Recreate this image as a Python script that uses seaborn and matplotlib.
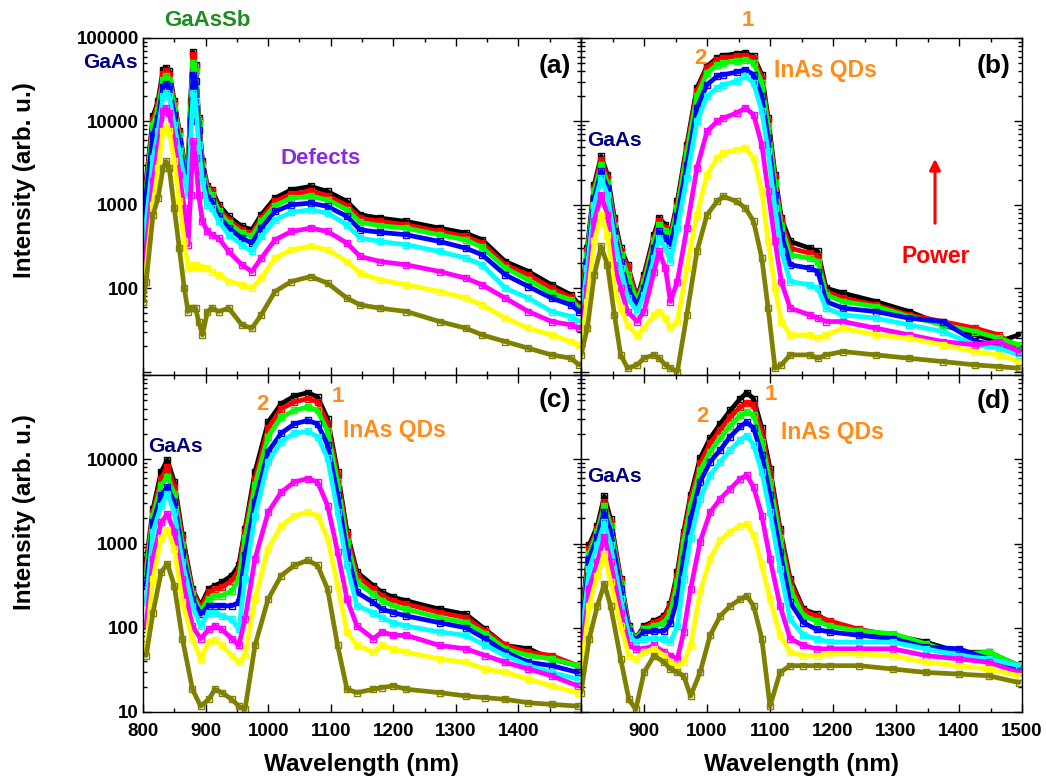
import numpy as np
import matplotlib
matplotlib.use("Agg")
import matplotlib.pyplot as plt
import seaborn as sns
from matplotlib.ticker import FixedLocator, NullFormatter, LogLocator, MultipleLocator, FuncFormatter

sns.set_theme(style="ticks")
plt.rcParams["font.family"] = ["Liberation Sans", "DejaVu Sans"]
plt.rcParams["font.weight"] = "bold"
plt.rcParams["axes.edgecolor"] = "black"
plt.rcParams["xtick.color"] = "black"
plt.rcParams["ytick.color"] = "black"
plt.rcParams["axes.linewidth"] = 1.0

# ---------------- data: log10(intensity) ----------------
series_names = ["P8", "P7", "P6", "P5", "P4", "P3", "P2", "P1"]
series_colors = ["#000000", "#FF0000", "#00FF00", "#0000FF", "#00FFFF", "#FF00FF", "#FFFF00", "#808000"]

# panel (a)
wl_a = [800, 805, 816, 824, 832, 837, 842, 850, 858, 866, 872, 876, 880, 884, 889, 895, 903, 910, 921, 937,
        958, 974, 989, 1011, 1037, 1068, 1095, 1126, 1147, 1179, 1221, 1274, 1316, 1342, 1379, 1416, 1453, 1484, 1497]
a_black = [2.96, 3.28, 4.06, 4.24, 4.62, 4.64, 4.60, 4.24, 3.88, 3.52, 3.44, 4.24, 4.83, 4.68, 4.04, 3.52, 3.22, 3.18, 3.00, 2.86,
           2.74, 2.70, 2.88, 3.08, 3.18, 3.22, 3.16, 3.04, 2.88, 2.84, 2.80, 2.72, 2.66, 2.58, 2.32, 2.20, 2.04, 1.92, 1.80]
a_red = [2.92, 3.24, 4.02, 4.20, 4.57, 4.60, 4.56, 4.22, 3.86, 3.50, 3.42, 4.20, 4.80, 4.66, 4.02, 3.50, 3.20, 3.16, 2.96, 2.82,
         2.70, 2.66, 2.84, 3.04, 3.13, 3.16, 3.11, 2.99, 2.84, 2.80, 2.76, 2.68, 2.62, 2.54, 2.28, 2.16, 2.00, 1.89, 1.78]
a_green = [2.86, 3.20, 3.96, 4.14, 4.50, 4.54, 4.50, 4.18, 3.82, 3.46, 3.38, 4.12, 4.70, 4.60, 3.98, 3.46, 3.16, 3.12, 2.92, 2.78,
           2.66, 2.62, 2.80, 2.99, 3.08, 3.10, 3.06, 2.94, 2.79, 2.75, 2.72, 2.64, 2.58, 2.49, 2.24, 2.10, 1.94, 1.86, 1.76]
a_blue = [2.76, 3.12, 3.84, 4.04, 4.41, 4.45, 4.42, 4.08, 3.76, 3.40, 3.28, 4.00, 4.56, 4.48, 3.90, 3.40, 3.08, 3.04, 2.86, 2.72,
          2.60, 2.54, 2.72, 2.92, 3.00, 3.02, 2.98, 2.86, 2.70, 2.67, 2.64, 2.56, 2.48, 2.40, 2.16, 2.02, 1.88, 1.80, 1.72]
a_cyan = [2.56, 2.80, 3.56, 3.88, 4.30, 4.34, 4.30, 3.96, 3.64, 3.32, 3.12, 3.76, 4.34, 4.24, 3.72, 3.28, 3.00, 2.96, 2.80, 2.64,
          2.52, 2.44, 2.62, 2.82, 2.91, 2.94, 2.90, 2.76, 2.60, 2.56, 2.52, 2.44, 2.36, 2.28, 2.00, 1.88, 1.72, 1.66, 1.60]
a_magenta = [2.24, 2.48, 3.28, 3.68, 4.12, 4.16, 4.10, 3.76, 3.36, 2.96, 2.52, 3.12, 3.76, 3.56, 3.12, 2.80, 2.68, 2.64, 2.60, 2.44,
             2.28, 2.20, 2.36, 2.58, 2.68, 2.72, 2.68, 2.54, 2.38, 2.32, 2.28, 2.20, 2.12, 2.04, 1.88, 1.72, 1.60, 1.56, 1.52]
a_yellow = [2.00, 2.24, 3.00, 3.44, 3.88, 3.94, 3.88, 3.52, 3.04, 2.56, 2.24, 2.26, 2.28, 2.28, 2.26, 2.24, 2.24, 2.20, 2.16, 2.08,
            2.04, 2.00, 2.12, 2.36, 2.46, 2.50, 2.46, 2.32, 2.18, 2.10, 2.04, 1.96, 1.88, 1.80, 1.64, 1.52, 1.44, 1.36, 1.32]
a_olive = [1.84, 2.08, 2.88, 3.08, 3.44, 3.52, 3.44, 2.96, 2.48, 2.00, 1.72, 1.76, 1.76, 1.76, 1.60, 1.44, 1.72, 1.76, 1.72, 1.76,
           1.56, 1.52, 1.68, 1.96, 2.08, 2.14, 2.06, 1.88, 1.80, 1.76, 1.72, 1.60, 1.52, 1.44, 1.36, 1.28, 1.20, 1.16, 1.08]

# panel (b)
wl_b = [800, 810, 821, 832, 842, 853, 863, 874, 889, 900, 916, 924, 934, 942, 953, 968, 984, 1000, 1016, 1026,
        1047, 1061, 1074, 1087, 1097, 1108, 1118, 1132, 1163, 1176, 1189, 1216, 1268, 1321, 1374, 1426, 1463, 1495]
b_black = [1.84, 2.48, 3.24, 3.58, 3.36, 2.84, 2.48, 2.28, 1.88, 2.16, 2.64, 2.84, 2.76, 2.64, 3.04, 3.72, 4.40, 4.66, 4.76, 4.79,
           4.81, 4.82, 4.78, 4.56, 4.04, 3.36, 2.84, 2.56, 2.48, 2.44, 2.00, 1.94, 1.84, 1.72, 1.56, 1.44, 1.36, 1.44]
b_red = [1.80, 2.44, 3.20, 3.54, 3.32, 2.80, 2.44, 2.26, 1.86, 2.12, 2.60, 2.80, 2.72, 2.62, 3.00, 3.68, 4.36, 4.64, 4.74, 4.76,
         4.78, 4.79, 4.76, 4.52, 4.00, 3.32, 2.80, 2.48, 2.42, 2.38, 1.96, 1.88, 1.80, 1.68, 1.60, 1.52, 1.44, 1.28]
b_green = [1.76, 2.40, 3.16, 3.48, 3.26, 2.74, 2.40, 2.16, 1.84, 2.08, 2.56, 2.76, 2.68, 2.58, 2.96, 3.62, 4.30, 4.58, 4.68, 4.70,
           4.72, 4.74, 4.70, 4.46, 3.94, 3.26, 2.74, 2.40, 2.36, 2.32, 1.92, 1.84, 1.78, 1.66, 1.56, 1.48, 1.40, 1.32]
b_blue = [1.72, 2.32, 3.08, 3.40, 3.20, 2.68, 2.32, 2.00, 1.80, 2.00, 2.48, 2.68, 2.60, 2.52, 2.86, 3.48, 4.16, 4.44, 4.54, 4.56,
          4.59, 4.62, 4.56, 4.30, 3.80, 3.12, 2.64, 2.28, 2.24, 2.20, 1.84, 1.76, 1.72, 1.64, 1.60, 1.36, 1.32, 1.24]
b_cyan = [1.68, 2.24, 3.00, 3.32, 3.12, 2.60, 2.24, 1.88, 1.72, 1.92, 2.36, 2.60, 2.48, 2.32, 2.72, 3.32, 4.00, 4.30, 4.40, 4.44,
          4.48, 4.54, 4.46, 4.12, 3.64, 2.96, 2.44, 2.08, 2.04, 2.00, 1.76, 1.68, 1.64, 1.56, 1.48, 1.32, 1.28, 1.20]
b_magenta = [1.52, 2.00, 2.80, 3.12, 2.88, 2.28, 2.00, 1.72, 1.60, 1.72, 2.20, 2.44, 2.24, 1.84, 2.08, 2.72, 3.44, 3.88, 4.00, 4.04,
             4.10, 4.16, 4.08, 3.72, 3.16, 2.56, 2.08, 1.76, 1.68, 1.64, 1.60, 1.60, 1.52, 1.44, 1.36, 1.32, 1.36, 1.24]
b_yellow = [1.36, 1.84, 2.56, 2.88, 2.64, 2.00, 1.76, 1.56, 1.44, 1.52, 1.68, 1.72, 1.64, 1.52, 1.60, 2.24, 2.88, 3.36, 3.56, 3.62,
            3.66, 3.68, 3.56, 3.16, 2.56, 2.00, 1.60, 1.44, 1.44, 1.40, 1.44, 1.52, 1.44, 1.40, 1.32, 1.24, 1.20, 1.12]
b_olive = [1.20, 1.52, 2.16, 2.50, 2.28, 1.68, 1.20, 1.04, 1.08, 1.16, 1.20, 1.16, 1.08, 1.04, 1.00, 1.68, 2.44, 2.88, 3.04, 3.10,
           3.04, 2.96, 2.80, 2.36, 1.76, 1.04, 1.08, 1.20, 1.20, 1.16, 1.20, 1.24, 1.20, 1.16, 1.12, 1.08, 1.06, 1.04]

# panel (c)
wl_c = [805, 816, 829, 839, 850, 863, 879, 892, 905, 915, 926, 942, 953, 963, 979, 1000, 1021, 1042, 1063, 1079,
        1095, 1111, 1126, 1142, 1168, 1182, 1200, 1221, 1274, 1316, 1347, 1379, 1416, 1453, 1495]
c_black = [2.78, 3.41, 3.85, 3.99, 3.73, 3.10, 2.46, 2.26, 2.46, 2.50, 2.54, 2.62, 2.74, 3.17, 3.85, 4.44, 4.66, 4.75, 4.79, 4.74,
           4.48, 3.85, 3.14, 2.66, 2.50, 2.42, 2.36, 2.32, 2.22, 2.16, 1.98, 1.79, 1.75, 1.63, 1.55]
c_red = [2.74, 3.37, 3.77, 3.91, 3.67, 3.06, 2.44, 2.24, 2.42, 2.46, 2.48, 2.56, 2.68, 3.14, 3.77, 4.37, 4.60, 4.68, 4.72, 4.68,
         4.42, 3.81, 3.10, 2.62, 2.46, 2.38, 2.32, 2.28, 2.18, 2.12, 1.96, 1.79, 1.71, 1.67, 1.55]
c_green = [2.66, 3.33, 3.69, 3.79, 3.59, 2.98, 2.40, 2.20, 2.34, 2.38, 2.38, 2.44, 2.58, 3.06, 3.69, 4.27, 4.50, 4.58, 4.62, 4.58,
           4.33, 3.73, 3.02, 2.54, 2.40, 2.32, 2.26, 2.22, 2.12, 2.06, 1.93, 1.75, 1.67, 1.63, 1.55]
c_blue = [2.50, 3.25, 3.57, 3.67, 3.49, 2.90, 2.34, 2.16, 2.26, 2.26, 2.26, 2.26, 2.30, 2.86, 3.49, 4.09, 4.31, 4.42, 4.46, 4.42,
          4.17, 3.57, 2.90, 2.42, 2.30, 2.22, 2.18, 2.14, 2.06, 2.00, 1.87, 1.71, 1.59, 1.55, 1.47]
c_cyan = [2.30, 3.14, 3.45, 3.59, 3.37, 2.78, 2.26, 2.02, 2.18, 2.18, 2.14, 2.10, 1.98, 2.58, 3.33, 3.97, 4.21, 4.31, 4.33, 4.27,
          4.01, 3.37, 2.74, 2.26, 2.18, 2.12, 2.06, 2.02, 1.95, 1.91, 1.79, 1.67, 1.55, 1.47, 1.39]
c_magenta = [2.02, 2.82, 3.25, 3.35, 3.14, 2.58, 2.02, 1.87, 1.98, 2.02, 1.98, 1.87, 1.79, 2.10, 2.82, 3.37, 3.61, 3.73, 3.77, 3.73,
             3.45, 2.90, 2.34, 2.02, 1.87, 1.95, 1.91, 1.91, 1.79, 1.75, 1.67, 1.59, 1.51, 1.43, 1.31]
c_yellow = [1.75, 2.58, 3.06, 3.16, 2.94, 2.30, 1.87, 1.63, 1.83, 1.85, 1.79, 1.67, 1.59, 1.67, 2.34, 2.94, 3.21, 3.33, 3.37, 3.33,
            3.06, 2.50, 1.95, 1.79, 1.71, 1.79, 1.75, 1.71, 1.63, 1.59, 1.51, 1.47, 1.39, 1.31, 1.23]
c_olive = [1.67, 2.18, 2.66, 2.76, 2.50, 1.87, 1.27, 1.07, 1.15, 1.27, 1.23, 1.15, 1.07, 1.03, 1.79, 2.34, 2.62, 2.74, 2.80, 2.74,
           2.46, 1.79, 1.27, 1.23, 1.27, 1.29, 1.31, 1.27, 1.23, 1.19, 1.17, 1.15, 1.11, 1.09, 1.07]

# panel (d)
wl_d = [800, 813, 826, 837, 847, 863, 876, 887, 900, 916, 932, 942, 953, 963, 974, 989, 1005, 1021, 1037, 1053,
        1063, 1074, 1087, 1100, 1116, 1132, 1153, 1174, 1195, 1242, 1295, 1347, 1400, 1447, 1495]
d_black = [2.02, 2.98, 3.21, 3.56, 3.29, 2.58, 2.02, 1.87, 2.02, 2.08, 2.14, 2.28, 2.66, 3.14, 3.57, 4.01, 4.25, 4.42, 4.58, 4.72,
           4.79, 4.72, 4.37, 3.89, 3.17, 2.58, 2.22, 2.16, 2.06, 1.96, 1.91, 1.83, 1.71, 1.71, 1.55]
d_red = [1.98, 2.94, 3.17, 3.49, 3.25, 2.56, 2.00, 1.87, 2.00, 2.06, 2.12, 2.26, 2.62, 3.10, 3.53, 3.95, 4.19, 4.35, 4.50, 4.62,
         4.67, 4.64, 4.31, 3.83, 3.14, 2.54, 2.20, 2.14, 2.08, 1.98, 1.91, 1.79, 1.71, 1.67, 1.55]
d_green = [1.95, 2.88, 3.14, 3.45, 3.21, 2.52, 1.98, 1.87, 1.98, 2.02, 2.06, 2.18, 2.54, 3.02, 3.45, 3.87, 4.09, 4.25, 4.40, 4.52,
           4.56, 4.52, 4.21, 3.73, 3.06, 2.46, 2.14, 2.08, 2.02, 1.96, 1.93, 1.81, 1.69, 1.71, 1.55]
d_blue = [1.91, 2.82, 3.08, 3.37, 3.14, 2.46, 1.96, 1.85, 1.95, 1.96, 1.96, 2.06, 2.34, 2.82, 3.29, 3.73, 3.97, 4.11, 4.27, 4.39,
          4.44, 4.37, 4.05, 3.57, 2.90, 2.30, 2.06, 1.98, 1.95, 1.91, 1.87, 1.77, 1.75, 1.63, 1.51]
d_cyan = [1.83, 2.70, 2.98, 3.25, 2.98, 2.34, 1.91, 1.83, 1.87, 1.87, 1.87, 1.83, 2.02, 2.58, 3.06, 3.53, 3.81, 3.97, 4.11, 4.23,
          4.28, 4.17, 3.85, 3.37, 2.70, 2.10, 1.91, 1.87, 1.83, 1.83, 1.83, 1.75, 1.67, 1.63, 1.55]
d_magenta = [1.63, 2.46, 2.78, 3.08, 2.78, 2.18, 1.79, 1.75, 1.75, 1.79, 1.71, 1.67, 1.63, 1.95, 2.46, 3.02, 3.37, 3.53, 3.65, 3.77,
             3.81, 3.67, 3.33, 2.82, 2.26, 1.87, 1.79, 1.75, 1.75, 1.75, 1.75, 1.67, 1.63, 1.59, 1.47]
d_yellow = [1.47, 2.26, 2.62, 2.88, 2.54, 2.02, 1.67, 1.63, 1.71, 1.75, 1.67, 1.59, 1.55, 1.59, 1.79, 2.42, 2.82, 3.04, 3.14, 3.21,
            3.23, 3.10, 2.74, 2.34, 1.91, 1.71, 1.67, 1.67, 1.69, 1.69, 1.67, 1.59, 1.55, 1.51, 1.43]
d_olive = [1.23, 1.87, 2.26, 2.52, 2.26, 1.63, 1.15, 1.03, 1.47, 1.67, 1.59, 1.51, 1.47, 1.43, 1.19, 1.47, 1.91, 2.14, 2.26, 2.34,
           2.38, 2.26, 1.87, 1.07, 1.47, 1.55, 1.55, 1.55, 1.55, 1.55, 1.51, 1.47, 1.45, 1.43, 1.35]

yticks_top = [100, 1000, 10000, 100000]
yticks_bottom = [10, 100, 1000, 10000]
xticks_left = [800, 900, 1000, 1100, 1200, 1300, 1400]
xticks_right = [900, 1000, 1100, 1200, 1300, 1400, 1500]

panels = {
    "a": (wl_a, [a_black, a_red, a_green, a_blue, a_cyan, a_magenta, a_yellow, a_olive]),
    "b": (wl_b, [b_black, b_red, b_green, b_blue, b_cyan, b_magenta, b_yellow, b_olive]),
    "c": (wl_c, [c_black, c_red, c_green, c_blue, c_cyan, c_magenta, c_yellow, c_olive]),
    "d": (wl_d, [d_black, d_red, d_green, d_blue, d_cyan, d_magenta, d_yellow, d_olive]),
}

# ---------------- layout ----------------
W, H = 1046, 782
fig = plt.figure(figsize=(W / 100, H / 100), dpi=100)
fig.patch.set_facecolor("white")


def fx(x):
    return x / W


def fy(y):
    return 1 - y / H


XL, XM, XR = 143, 581, 1022
YT, YM, YB = 38, 375, 712
rects = {
    "a": [fx(XL), fy(YM), fx(XM) - fx(XL), fy(YT) - fy(YM)],
    "b": [fx(XM), fy(YM), fx(XR) - fx(XM), fy(YT) - fy(YM)],
    "c": [fx(XL), fy(YB), fx(XM) - fx(XL), fy(YM) - fy(YB)],
    "d": [fx(XM), fy(YB), fx(XR) - fx(XM), fy(YM) - fy(YB)],
}

for key, (wl, series) in panels.items():
    ax = fig.add_axes(rects[key])
    ax.set_facecolor("white")
    ax.set_yscale("log")
    for name, color, vals in zip(series_names, series_colors, series):
        sns.lineplot(x=wl, y=10 ** np.asarray(vals), ax=ax, color=color, lw=3.4,
                     marker="s", markersize=5.0, markerfacecolor="none",
                     markeredgecolor=color, markeredgewidth=1.0,
                     sort=False, estimator=None, legend=False)
    top = key in ("a", "b")
    left = key in ("a", "c")
    ax.set_xlim(800, 1500)
    ax.set_ylim(9.1 if top else 10, 1e5)
    ax.set_xlabel("")
    ax.set_ylabel("")
    ax.xaxis.set_major_locator(MultipleLocator(100))
    ax.xaxis.set_minor_locator(MultipleLocator(50))
    ax.yaxis.set_major_locator(FixedLocator([10, 100, 1000, 10000, 100000]))
    ax.yaxis.set_minor_locator(LogLocator(base=10, subs=np.arange(2, 10)))
    ax.yaxis.set_minor_formatter(NullFormatter())
    ax.tick_params(which="both", direction="in", top=True, right=True, width=1.0,
                   labelsize=13.5)
    ax.tick_params(axis="y", pad=3)
    ax.tick_params(axis="x", pad=8)
    ax.tick_params(which="major", length=6)
    ax.tick_params(which="minor", length=3)
    shown_y = yticks_top if top else yticks_bottom
    shown_x = xticks_left if left else xticks_right
    if left:
        ax.yaxis.set_major_formatter(FuncFormatter(
            lambda v, p, s=shown_y: f"{int(round(v))}" if int(round(v)) in s else ""))
    else:
        ax.tick_params(axis="y", labelleft=False)
    if not top:
        ax.xaxis.set_major_formatter(FuncFormatter(
            lambda v, p, s=shown_x: f"{int(round(v))}" if int(round(v)) in s else ""))
    else:
        ax.tick_params(axis="x", labelbottom=False)
    for sp in ax.spines.values():
        sp.set_visible(True)
        sp.set_color("black")
        sp.set_linewidth(1.0)
    if key == "b":
        ax_b = ax

# ---------------- annotations ----------------
orange = "#FF8C1A"
navy = "#000080"


def txt(x, y, s, color="black", size=15, **kw):
    fig.text(fx(x), fy(y), s, color=color, fontsize=size, fontweight="bold",
             ha="center", va="center", **kw)


txt(207, 20, "GaAsSb", color="#1E8C1E", size=16)
txt(110, 62, "GaAs", color=navy, size=15)
txt(321, 158, "Defects", color="#8A2BE2", size=16)
txt(555, 66, "(a)", size=19)

txt(748, 20, "1", color=orange, size=16)
txt(700, 58, "2", color=orange, size=16)
txt(825, 70, "InAs QDs", color=orange, size=16.5)
txt(994, 66, "(b)", size=19)
txt(614, 140, "GaAs", color=navy, size=15)
txt(936, 256, "Power", color="#FF0000", size=16.5)
ax_b.annotate("", xy=(fx(935), fy(156)), xycoords="figure fraction",
              xytext=(fx(935), fy(226)), textcoords="figure fraction",
              arrowprops=dict(arrowstyle="-|>", color="#FF0000", lw=2.2, mutation_scale=16))

txt(262, 405, "2", color=orange, size=16)
txt(338, 397, "1", color=orange, size=16)
txt(394, 431, "InAs QDs", color=orange, size=16.5)
txt(555, 400, "(c)", size=19)
txt(175, 446, "GaAs", color=navy, size=15)

txt(771, 395, "1", color=orange, size=16)
txt(702, 417, "2", color=orange, size=16)
txt(832, 433, "InAs QDs", color=orange, size=16.5)
txt(994, 401, "(d)", size=19)
txt(614, 477, "GaAs", color=navy, size=15)

txt(25, 180, "Intensity (arb. u.)", size=17.5, rotation=90)
txt(25, 512, "Intensity (arb. u.)", size=17.5, rotation=90)
txt(361, 765, "Wavelength (nm)", size=17.5)
txt(801, 765, "Wavelength (nm)", size=17.5)

fig.savefig("out.png", dpi=100, facecolor="white")
